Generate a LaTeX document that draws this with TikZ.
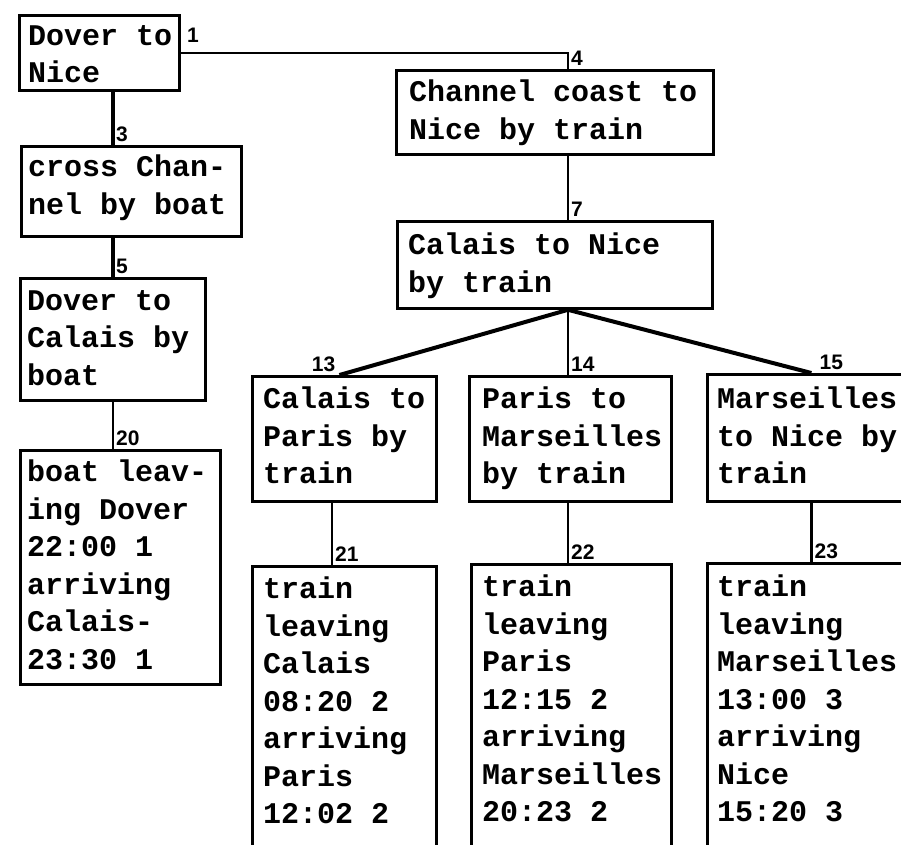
\documentclass[tikz,border=0pt]{standalone}
\usepackage{fontspec}
\newfontfamily\boxfont{Liberation Mono}
\newfontfamily\numfont{Liberation Sans}
\tikzset{
  box/.style={draw, line width=2.8pt, anchor=north west, inner sep=0pt},
  txt/.style={anchor=north west, inner sep=0pt, align=left,
    font=\boxfont\bfseries\fontsize{30}{37.5}\selectfont,
    execute at begin node={\rule{0pt}{26pt}}},
  num/.style={anchor=south west, inner xsep=3pt, inner ysep=3pt,
    font=\numfont\bfseries\fontsize{21}{21}\selectfont},
  link/.style={line width=2.8pt},
  fan/.style={line width=4pt}
}
\begin{document}
\begin{tikzpicture}[x=1pt,y=-1pt]
\clip (0,0) rectangle (901,844);
% vertical lines of the tree
\coordinate (xl) at (113,0);
\coordinate (xs) at (568,0);
\coordinate (xc) at (332,0);
% boxes
\node[box, minimum width=160, minimum height=75] (dn) at (18,14) {};
\node[box, minimum width=317, minimum height=84] (cc) at (395,69) {};
\node[box, minimum width=315, minimum height=87] (ct) at (396,220) {};
\node[box, minimum width=220, minimum height=90] (cb) at (20,145) {};
\node[box, minimum width=185, minimum height=122] (db) at (19,277) {};
\node[box, minimum width=200, minimum height=234] (bl) at (19,449) {};
\node[box, minimum width=184, minimum height=125] (cp) at (251,375) {};
\node[box, minimum width=202, minimum height=125] (pm) at (468,375) {};
\node[box, minimum width=208, minimum height=127] (mn) at (706,373) {};
\node[box, minimum width=184, minimum height=320] (tc) at (251,565) {};
\node[box, minimum width=200, minimum height=320] (tp) at (470,563) {};
\node[box, minimum width=208, minimum height=320] (tm) at (706,562) {};
% texts
\node[txt] (dn-t) at ([shift={(10,11)}]dn.north west) {Dover to\\Nice};
\node[txt] (cc-t) at ([shift={(14,11)}]cc.north west) {Channel coast to\\Nice by train};
\node[txt] (ct-t) at ([shift={(12,13)}]ct.north west) {Calais to Nice\\by train};
\node[txt] (cb-t) at ([shift={(8,10)}]cb.north west) {cross Chan-\\nel by boat};
\node[txt] (db-t) at ([shift={(8,13)}]db.north west) {Dover to\\Calais by\\boat};
\node[txt] (bl-t) at ([shift={(8,11)}]bl.north west) {boat leav-\\ing Dover\\22:00 1\\arriving\\Calais-\\23:30 1};
\node[txt] (cp-t) at ([shift={(12,12)}]cp.north west) {Calais to\\Paris by\\train};
\node[txt] (pm-t) at ([shift={(14,12)}]pm.north west) {Paris to\\Marseilles\\by train};
\node[txt] (mn-t) at ([shift={(11,14)}]mn.north west) {Marseilles\\to Nice by\\train};
\node[txt] (tc-t) at ([shift={(12,12)}]tc.north west) {train\\leaving\\Calais\\08:20 2\\arriving\\Paris\\12:02 2};
\node[txt] (tp-t) at ([shift={(12,12)}]tp.north west) {train\\leaving\\Paris\\12:15 2\\arriving\\Marseilles\\20:23 2};
\node[txt] (tm-t) at ([shift={(11,13)}]tm.north west) {train\\leaving\\Marseilles\\13:00 3\\arriving\\Nice\\15:20 3};
% connectors
\draw[link, line width=1.8pt] (dn.east) -| (cc.north -| xs);
\draw[link] (cc.south -| xs) -- (ct.north -| xs);
\draw[link, line width=3.2pt] (dn.south -| xl) -- (cb.north -| xl);
\draw[link, line width=3.2pt] (cb.south -| xl) -- (db.north -| xl);
\draw[link] (db.south -| xl) -- (bl.north -| xl);
\draw[fan] (ct.south -| xs) -- ([xshift=-5]cp.north);
\draw[link] (ct.south -| xs) -- (pm.north -| xs);
\draw[fan] (ct.south -| xs) -- (mn.north);
\draw[link] (cp.south -| xc) -- (tc.north -| xc);
\draw[link] (pm.south -| xs) -- (tp.north -| xs);
\draw[link] (mn.south) -- (tm.north);
% numbers
\node[num] (n1) at ([shift={(3,-7)}]dn.east) {1};
\node[num] (n3) at (cb.north -| xl) {3};
\node[num] (n4) at (cc.north -| xs) {4};
\node[num] (n5) at (db.north -| xl) {5};
\node[num] (n7) at (ct.north -| xs) {7};
\node[num, anchor=south east] (n13) at ([xshift=-6]cp.north) {13};
\node[num] (n14) at (pm.north -| xs) {14};
\node[num] (n15) at ([xshift=5]mn.north) {15};
\node[num] (n20) at (bl.north -| xl) {20};
\node[num] (n21) at (tc.north -| xc) {21};
\node[num] (n22) at (tp.north -| xs) {22};
\node[num] (n23) at (tm.north) {23};
\end{tikzpicture}
\end{document}
